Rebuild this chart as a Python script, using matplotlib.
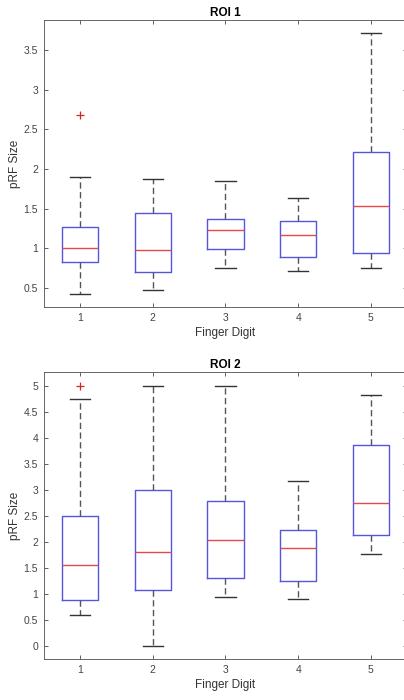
import matplotlib
matplotlib.use("Agg")
import matplotlib.pyplot as plt

# Finger digits on x axis
digits = [1, 2, 3, 4, 5]

# ROI 1 box summary values
roi1_whislo = [0.42, 0.48, 0.75, 0.72, 0.75]
roi1_q1 = [0.83, 0.70, 0.99, 0.89, 0.94]
roi1_med = [1.00, 0.98, 1.23, 1.17, 1.53]
roi1_q3 = [1.27, 1.45, 1.37, 1.35, 2.21]
roi1_whishi = [1.90, 1.88, 1.85, 1.64, 3.71]
roi1_fliers = [[2.68], [], [], [], []]

# ROI 2 box summary values
roi2_whislo = [0.60, 0.00, 0.94, 0.90, 1.77]
roi2_q1 = [0.88, 1.07, 1.30, 1.25, 2.13]
roi2_med = [1.55, 1.80, 2.03, 1.89, 2.74]
roi2_q3 = [2.50, 3.00, 2.79, 2.23, 3.86]
roi2_whishi = [4.75, 5.00, 5.00, 3.17, 4.81]
roi2_fliers = [[5.0], [], [], [], []]

plt.rcParams["font.family"] = ["Liberation Sans", "DejaVu Sans"]

fig = plt.figure(figsize=(4.04, 7.0), dpi=100)
ax1 = fig.add_axes([0.108, 0.5614, 0.900, 0.41])
ax2 = fig.add_axes([0.108, 0.0586, 0.900, 0.41])


def make_stats(lo, q1, med, q3, hi, fl):
    stats = []
    for i in range(len(digits)):
        stats.append({"whislo": lo[i], "q1": q1[i], "med": med[i],
                      "q3": q3[i], "whishi": hi[i], "fliers": fl[i]})
    return stats


def draw(ax, stats, title, ylim, yticks):
    ax.bxp(stats, positions=digits, widths=0.5, capwidths=0.28,
           boxprops=dict(color="#5555dd", linewidth=1.0),
           medianprops=dict(color="#e84848", linewidth=1.0),
           whiskerprops=dict(color="#555555", linewidth=1.0, linestyle=(0, (4.5, 2.5))),
           capprops=dict(color="#333333", linewidth=1.0),
           flierprops=dict(marker="+", markeredgecolor="#dd2222", markersize=6,
                           markeredgewidth=0.9))
    ax.set_xlim(0.5, 5.5)
    ax.set_ylim(*ylim)
    ax.set_yticks(yticks)
    ax.set_yticklabels([("%g" % t) for t in yticks])
    ax.set_xticks(digits)
    ax.set_xticklabels([str(d) for d in digits])
    ax.tick_params(direction="in", top=True, right=True, length=3, pad=4,
                   labelsize=7.5, colors="#444444", width=0.6)
    for s in ax.spines.values():
        s.set_color("#666666")
        s.set_linewidth(0.7)
    ax.set_title(title, fontsize=8.5, fontweight="bold", pad=3)
    ax.set_xlabel("Finger Digit", fontsize=8.5, color="#333333", labelpad=3)
    ax.set_ylabel("pRF Size", fontsize=8.5, color="#333333", labelpad=1.5)


draw(ax1, make_stats(roi1_whislo, roi1_q1, roi1_med, roi1_q3, roi1_whishi, roi1_fliers),
     "ROI 1", (0.26, 3.88), [0.5, 1, 1.5, 2, 2.5, 3, 3.5])
draw(ax2, make_stats(roi2_whislo, roi2_q1, roi2_med, roi2_q3, roi2_whishi, roi2_fliers),
     "ROI 2", (-0.25, 5.26), [0, 0.5, 1, 1.5, 2, 2.5, 3, 3.5, 4, 4.5, 5])

fig.savefig("out.png", dpi=100)
